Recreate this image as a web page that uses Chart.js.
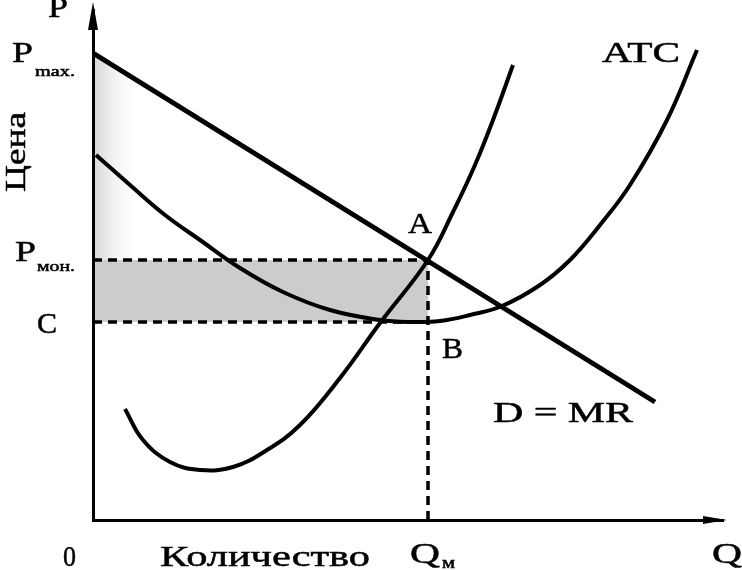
<!DOCTYPE html>
<html><head><meta charset="utf-8">
<script src="https://cdn.jsdelivr.net/npm/chart.js@4.4.1/dist/chart.umd.min.js"></script>
<style>html,body{margin:0;padding:0;background:#fff;}#wrap{width:742px;height:570px;position:relative;}</style>
</head><body><div id="wrap"><canvas id="c"></canvas></div>
<script>
// ---- data (quantity Q, price P in chart units) ----
const demandQ = [0, 562];
const demandP = [467, 118];
const mcQ = [32, 50, 77, 107, 140, 174, 207, 247, 287, 335, 360, 382, 400, 420];
const mcP = [111, 80, 58, 50, 53, 70, 95, 142, 197, 260, 308, 355, 400, 455];
const atcQ = [3, 37, 72, 107, 147, 190, 237, 287, 317, 347, 377, 409, 447, 477, 507, 537, 574, 604];
const atcP = [365, 335, 305, 280, 252, 228, 210, 200, 198, 199, 205, 214, 235, 260, 295, 335, 400, 470];
const priceMax = 467;   // P max
const priceMon = 260;   // P монополии
const costC = 198;      // C
const qMon = 335;       // Q м
const axisMaxQ = 630;
const axisMaxP = 510;
const labelAxisP = 'P', labelAxisQ = 'Q', labelOrigin = '0';
const labelPrice = 'Цена', labelQty = 'Количество';
const labelATC = 'ATC', labelDemand = 'D = MR', labelA = 'A', labelB = 'B', labelC = 'C';

const pts = (xs, ys) => xs.map((x, i) => ({x, y: ys[i]}));

const FONT = '"Liberation Serif", "Times New Roman", serif';
function drawFit(ctx, text, left, baseline, width, size) {
  ctx.save();
  ctx.font = size + 'px ' + FONT;
  const w = ctx.measureText(text).width;
  const s = width / w;
  ctx.translate(left, baseline);
  ctx.scale(s, 1);
  ctx.fillStyle = '#000';
  ctx.strokeStyle = '#000';
  ctx.lineWidth = 0.5;
  ctx.textBaseline = 'alphabetic';
  ctx.fillText(text, 0, 0);
  ctx.strokeText(text, 0, 0);
  ctx.restore();
}

const decor = {
  id: 'decor',
  afterDraw(chart) {
    const ctx = chart.ctx, xs = chart.scales.x, ys = chart.scales.y;
    const ox = xs.getPixelForValue(0), oy = ys.getPixelForValue(0);
    const topY = ys.getPixelForValue(axisMaxP), rightX = xs.getPixelForValue(axisMaxQ);
    ctx.save();
    ctx.fillStyle = '#000';
    ctx.beginPath();
    ctx.moveTo(ox, topY - 8); ctx.lineTo(ox - 5, topY + 20); ctx.lineTo(ox + 5, topY + 20); ctx.closePath(); ctx.fill();
    ctx.beginPath();
    ctx.moveTo(rightX + 4, oy); ctx.lineTo(rightX - 20, oy - 4); ctx.lineTo(rightX - 20, oy + 4); ctx.closePath(); ctx.fill();
    ctx.restore();

    const yMax = ys.getPixelForValue(priceMax);
    const yMon = ys.getPixelForValue(priceMon);
    const yC = ys.getPixelForValue(costC);
    const xQ = xs.getPixelForValue(qMon);

    drawFit(ctx, labelAxisP, ox - 45, topY + 7, 20, 30);
    drawFit(ctx, 'P', ox - 81, yMax + 9, 21, 30);
    drawFit(ctx, 'max.', ox - 58, yMax + 23, 40, 15);
    drawFit(ctx, 'P', ox - 78, yMon + 1, 21, 30);
    drawFit(ctx, 'мон.', ox - 56, yMon + 11, 38, 15);
    drawFit(ctx, labelC, ox - 56, yC + 11, 20, 30);
    drawFit(ctx, labelA, xQ - 20, yMon - 27, 24, 30);
    drawFit(ctx, labelB, xQ + 14, yC + 36, 21, 30);
    drawFit(ctx, labelATC, 602, 62, 78, 30);
    drawFit(ctx, labelDemand, 493, 422, 140, 30);
    drawFit(ctx, labelOrigin, ox - 30, oy + 46, 13, 30);
    drawFit(ctx, labelQty, 160, oy + 46, 210, 30);
    drawFit(ctx, 'Q', xQ - 18, oy + 43, 30, 30);
    drawFit(ctx, 'м', xQ + 14, oy + 48, 13, 16);
    drawFit(ctx, labelAxisQ, 712, oy + 43, 30, 30);

    ctx.save();
    ctx.translate(16, 152);
    ctx.rotate(-Math.PI / 2);
    drawFit(ctx, labelPrice, -40, 9, 80, 30);
    ctx.restore();
  }
};

function surplusFill(c) {
  const area = c.chart.chartArea;
  if (!area) return 'rgba(0,0,0,0)';
  const g = c.chart.ctx.createLinearGradient(area.left, 0, area.left + 40, 0);
  g.addColorStop(0, 'rgba(0,0,0,0.16)');
  g.addColorStop(0.5, 'rgba(0,0,0,0.05)');
  g.addColorStop(1, 'rgba(0,0,0,0)');
  return g;
}

const dashed = {borderColor: '#000', borderWidth: 3.5, borderDash: [9, 6], pointRadius: 0, showLine: true};

new Chart(document.getElementById('c'), {
  type: 'scatter',
  data: {
    datasets: [
      {label: 'surplus', data: pts([0, qMon], [priceMax, priceMon]), showLine: true, borderWidth: 0, pointRadius: 0,
       fill: {value: priceMon}, backgroundColor: surplusFill, order: 10},
      {label: 'Cline', data: pts([0, qMon], [costC, costC]), ...dashed, order: 5},
      {label: 'Pmon', data: pts([0, qMon], [priceMon, priceMon]), ...dashed, fill: '-1', backgroundColor: 'rgba(0,0,0,0.2)', order: 4},
      {label: 'Qm', data: pts([qMon, qMon], [0, priceMon]), ...dashed, order: 3},
      {label: 'D', data: pts(demandQ, demandP), showLine: true, borderColor: '#000', borderWidth: 5, pointRadius: 0, order: 1},
      {label: 'MC', data: pts(mcQ, mcP), showLine: true, borderColor: '#000', borderWidth: 4, pointRadius: 0, tension: 0.4, order: 1},
      {label: 'ATC', data: pts(atcQ, atcP), showLine: true, borderColor: '#000', borderWidth: 4, pointRadius: 0, tension: 0.4, order: 1}
    ]
  },
  options: {
    responsive: true, maintainAspectRatio: false, animation: false,
    layout: {padding: {left: 93, right: 19, top: 10, bottom: 50}},
    plugins: {legend: {display: false}, tooltip: {enabled: false}},
    scales: {
      x: {type: 'linear', min: 0, max: axisMaxQ, grid: {display: false, drawTicks: false}, ticks: {display: false},
          border: {display: true, color: '#000', width: 3}},
      y: {type: 'linear', min: 0, max: axisMaxP, grid: {display: false, drawTicks: false}, ticks: {display: false},
          border: {display: true, color: '#000', width: 3}}
    }
  },
  plugins: [decor]
});
</script></body></html>
